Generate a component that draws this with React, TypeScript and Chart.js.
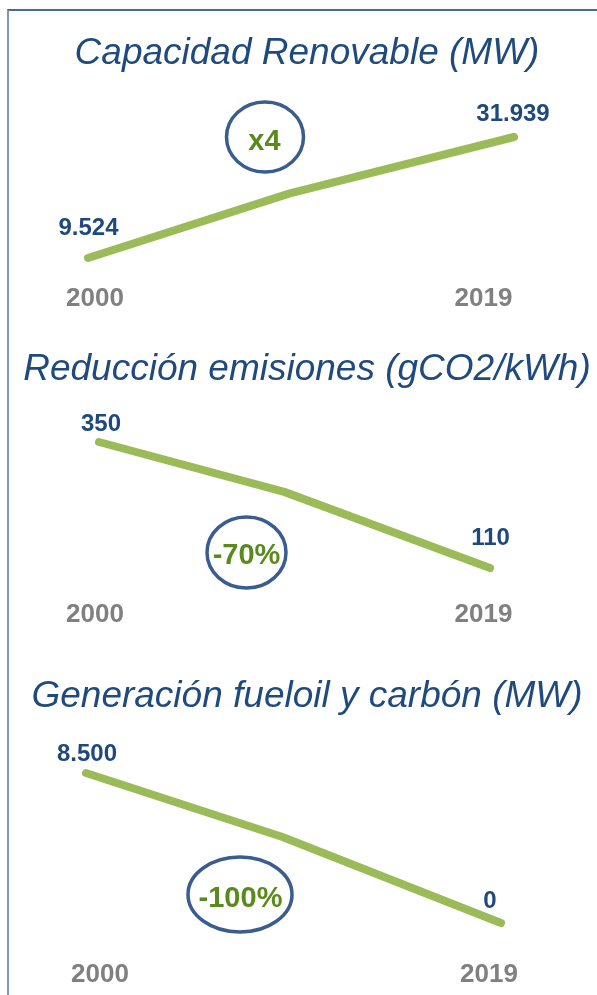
import React, { useEffect, useRef } from 'react';
import { Chart, registerables } from 'chart.js';

Chart.register(...registerables);

// ---------- data ----------
const YEARS = [2000, 2009, 2019];
const CAPACIDAD_MW = [9524, 21500, 31939];
const EMISIONES_G = [350, 255, 110];
const FUELOIL_MW = [8500, 4870, 0];
const TITLES = [
  'Capacidad Renovable (MW)',
  'Reducción emisiones (gCO2/kWh)',
  'Generación fueloil y carbón (MW)',
];
const YEAR_LABELS = ['2000', '2019'];
const BADGES = ['x4', '-70%', '-100%'];
const SERIES = [CAPACIDAD_MW, EMISIONES_G, FUELOIL_MW];

// ---------- styles ----------
const FONT = '"Liberation Sans", Arial, Helvetica, sans-serif';
const LINE_COLOR = '#9bbb59';
const TITLE_COLOR = '#1f4a7e';
const VALUE_COLOR = '#1f497d';
const YEAR_COLOR = '#808080';
const RING_COLOR = '#3a5c8e';
const BADGE_COLOR = '#5b8a1c';

const PANELS = [
  {
    top: 0, height: 330,
    padding: { left: 88, right: 83, top: 137, bottom: 72 },
    titleY: 64,
    startOff: [0.5, -32], endOff: [-1, -24.5],
    yearY: 296.5, yearX: [95, 483.5],
    badge: { cx: 265, cy: 137, rx: 38.5, ry: 35, tx: 264.5, ty: 139.5 },
  },
  {
    top: 330, height: 330,
    padding: { left: 99, right: 107, top: 112, bottom: 92 },
    titleY: 50,
    startOff: [2, -20], endOff: [0.5, -31.5],
    yearY: 282.5, yearX: [95, 483.5],
    badge: { cx: 246.5, cy: 222.5, rx: 39.5, ry: 35.5, tx: 246.5, ty: 223.5 },
  },
  {
    top: 660, height: 335,
    padding: { left: 86, right: 96, top: 113, bottom: 72 },
    titleY: 47,
    startOff: [1, -20.5], endOff: [-11, -23.5],
    yearY: 312.5, yearX: [100, 489],
    badge: { cx: 240, cy: 234.5, rx: 52, ry: 37.5, tx: 240.5, ty: 237 },
  },
];

const fmt = (v: number) => String(v).replace(/\B(?=(\d{3})+(?!\d))/g, '.');

function drawCentered(ctx: CanvasRenderingContext2D, text: string, x: number, cy: number, size: number) {
  // cy = visual centre of digits / capitals
  ctx.fillText(text, x, cy + size * 0.358);
}

function Panel({ idx }: { idx: number }) {
  const ref = useRef<HTMLCanvasElement | null>(null);
  const p = PANELS[idx];
  useEffect(() => {
    if (!ref.current) return;
    const values = SERIES[idx];
    const decor = {
      id: 'decor' + idx,
      afterDatasetsDraw(chart: any) {
        const ctx = chart.ctx as CanvasRenderingContext2D;
        ctx.save();
        // title
        ctx.fillStyle = TITLE_COLOR;
        ctx.font = `italic 37px ${FONT}`;
        ctx.textAlign = 'center';
        ctx.textBaseline = 'alphabetic';
        ctx.fillText(TITLES[idx], 307, p.titleY);

        // value labels at first / last points
        const pts = chart.getDatasetMeta(0).data;
        const first = pts[0];
        const last = pts[pts.length - 1];
        ctx.fillStyle = VALUE_COLOR;
        ctx.font = `bold 24px ${FONT}`;
        drawCentered(ctx, fmt(values[0]), first.x + p.startOff[0], first.y + p.startOff[1], 24);
        drawCentered(ctx, fmt(values[values.length - 1]), last.x + p.endOff[0], last.y + p.endOff[1], 24);

        // year labels
        ctx.fillStyle = YEAR_COLOR;
        ctx.font = `bold 26px ${FONT}`;
        drawCentered(ctx, YEAR_LABELS[0], p.yearX[0], p.yearY, 26);
        drawCentered(ctx, YEAR_LABELS[1], p.yearX[1], p.yearY, 26);

        // badge
        const b = p.badge;
        ctx.strokeStyle = RING_COLOR;
        ctx.lineWidth = 3.5;
        ctx.beginPath();
        ctx.ellipse(b.cx, b.cy, b.rx, b.ry, 0, 0, Math.PI * 2);
        ctx.stroke();
        ctx.fillStyle = BADGE_COLOR;
        ctx.font = `bold 29px ${FONT}`;
        drawCentered(ctx, BADGES[idx], b.tx, b.ty, 29);
        ctx.restore();
      },
    };
    const chart = new Chart(ref.current, {
      type: 'line',
      data: {
        datasets: [
          {
            data: YEARS.map((y, i) => ({ x: y, y: values[i] })),
            borderColor: LINE_COLOR,
            borderWidth: 8,
            borderCapStyle: 'round',
            borderJoinStyle: 'round',
            pointRadius: 0,
            tension: 0,
            fill: false,
            clip: false as any,
          },
        ],
      },
      options: {
        responsive: false,
        animation: false,
        events: [],
        layout: { padding: p.padding },
        scales: {
          x: { type: 'linear', min: YEARS[0], max: YEARS[YEARS.length - 1], display: false },
          y: { min: Math.min(...values), max: Math.max(...values), display: false },
        },
        plugins: { legend: { display: false }, tooltip: { enabled: false }, title: { display: false } },
      },
      plugins: [decor],
    } as any);
    return () => chart.destroy();
  }, [idx]);
  return (
    <canvas
      ref={ref}
      width={597}
      height={p.height}
      style={{ position: 'absolute', left: 0, top: p.top, width: 597, height: p.height, display: 'block' }}
    />
  );
}

export default function App() {
  useEffect(() => {
    document.body.style.margin = '0';
    document.body.style.background = '#ffffff';
  }, []);
  return (
    <div style={{ position: 'relative', width: 597, height: 995, overflow: 'hidden', background: '#fff' }}>
      <div
        style={{
          position: 'absolute', left: 7, top: 9, width: 600, height: 1000,
          borderLeft: '2px solid #7f97bd', borderTop: '2px solid #4a6898',
        }}
      />
      {PANELS.map((_, i) => (
        <Panel key={i} idx={i} />
      ))}
    </div>
  );
}
